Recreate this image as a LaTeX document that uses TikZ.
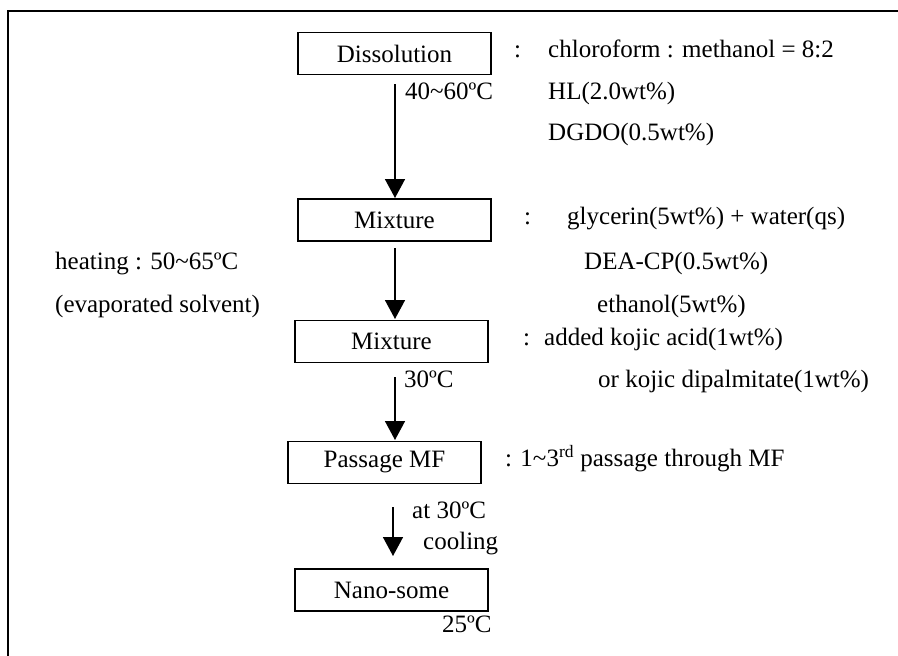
\documentclass[tikz,border=0pt]{standalone}
\usepackage{fontspec}
\setmainfont{Liberation Serif}
\usetikzlibrary{arrows.meta,calc}
\tikzset{
  stepbox/.style={draw,line width=1.8pt,minimum width=193pt,minimum height=42pt,inner sep=0pt,font=\fontsize{25}{30}\selectfont},
  lbl/.style={anchor=west,inner sep=0pt,text height=0.7em,text depth=0.2em,font=\fontsize{25}{30}\selectfont},
  flow/.style={line width=1.6pt,-{Triangle[width=20pt,length=19pt]}},
  frame/.style={line width=2pt}
}
\begin{document}
\begin{tikzpicture}[x=1pt,y=-1pt]
\useasboundingbox (0,0) rectangle (898,656);
\coordinate (fl) at (8,656);
\coordinate (fc) at (8,11);
\coordinate (fr) at (898,11);
\draw[frame] (fl) -- (fc) -- (fr);

% boxes
\node[stepbox] (d) at (394.5,53.5) {Dissolution};
\node[stepbox] (m1) at (394.5,220) {Mixture};
\node[stepbox] (m2) at (391.5,341.5) {Mixture};
\node[stepbox] (p) at (384.5,462.5) {Passage MF};
\node[stepbox] (n) at (391.5,590) {Nano-some};

% arrows
\coordinate (a1s) at (395,84);
\coordinate (a1e) at (395,198);
\coordinate (a2s) at (395,248);
\coordinate (a2e) at (395,319);
\coordinate (a3s) at (395,377);
\coordinate (a3e) at (395,440);
\coordinate (a4s) at (393,507);
\coordinate (a4e) at (393,556);
\draw[flow] (a1s) -- (a1e);
\draw[flow] (a2s) -- (a2e);
\draw[flow] (a3s) -- (a3e);
\draw[flow] (a4s) -- (a4e);

% labels
\node[lbl] (c1) at (514,55) {:};
\node[lbl] (t1) at (548,55) {chloroform : methanol = 8:2};
\node[lbl] (t40) at (405,97) {40\textasciitilde 60ºC};
\node[lbl] (thl) at (548,97) {HL(2.0wt\%)};
\node[lbl] (tdg) at (548,138) {DGDO(0.5wt\%)};

\node[lbl] (c2) at (524,222) {:};
\node[lbl] (tgl) at (567,222) {glycerin(5wt\%) + water(qs)};
\node[lbl] (the) at (55,267) {heating : 50\textasciitilde 65ºC};
\node[lbl] (tde) at (584,267) {DEA-CP(0.5wt\%)};
\node[lbl] (tev) at (55,310) {(evaporated solvent)};
\node[lbl] (tet) at (597,310) {ethanol(5wt\%)};

\node[lbl] (tad) at (523,343) {:\hspace{14pt}added kojic acid(1wt\%)};
\node[lbl] (t30) at (404,385) {30ºC};
\node[lbl] (tor) at (598,385) {or kojic dipalmitate(1wt\%)};

\node[lbl] (tpa) at (505,464) {: 1\textasciitilde 3\textsuperscript{rd} passage through MF};
\node[lbl] (tat) at (412,516) {at 30ºC};
\node[lbl] (tco) at (423,547) {cooling};
\node[lbl] (t25) at (442,630) {25ºC};
\end{tikzpicture}
\end{document}
